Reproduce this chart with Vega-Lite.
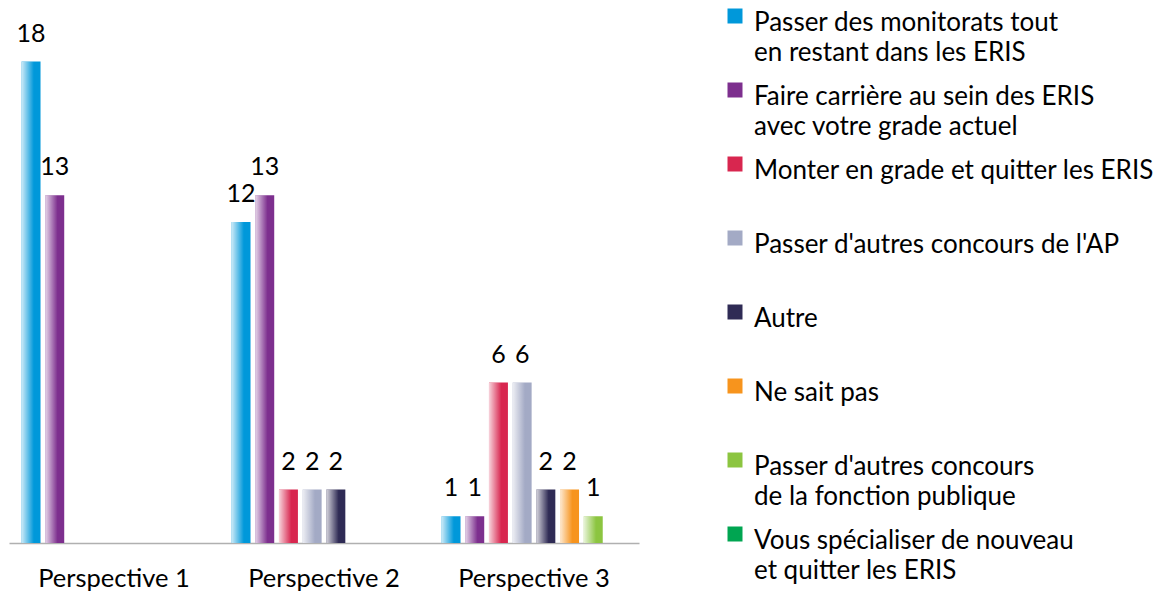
{
  "$schema": "https://vega.github.io/schema/vega-lite/v6.json",
  "autosize": {"type": "none"},
  "width": 630,
  "height": 535,
  "padding": {"left": 9, "top": 8, "right": 521, "bottom": 49},
  "background": "white",
  "config": {"view": {"stroke": null}, "font": "Lato"},
  "data": {
    "values": [
      {"perspective": "Perspective 1", "serie": "Passer des monitorats tout|en restant dans les ERIS", "value": 18},
      {"perspective": "Perspective 1", "serie": "Faire carrière au sein des ERIS|avec votre grade actuel", "value": 13},
      {"perspective": "Perspective 2", "serie": "Passer des monitorats tout|en restant dans les ERIS", "value": 12},
      {"perspective": "Perspective 2", "serie": "Faire carrière au sein des ERIS|avec votre grade actuel", "value": 13},
      {"perspective": "Perspective 2", "serie": "Monter en grade et quitter les ERIS", "value": 2},
      {"perspective": "Perspective 2", "serie": "Passer d'autres concours de l'AP", "value": 2},
      {"perspective": "Perspective 2", "serie": "Autre", "value": 2},
      {"perspective": "Perspective 3", "serie": "Passer des monitorats tout|en restant dans les ERIS", "value": 1},
      {"perspective": "Perspective 3", "serie": "Faire carrière au sein des ERIS|avec votre grade actuel", "value": 1},
      {"perspective": "Perspective 3", "serie": "Monter en grade et quitter les ERIS", "value": 6},
      {"perspective": "Perspective 3", "serie": "Passer d'autres concours de l'AP", "value": 6},
      {"perspective": "Perspective 3", "serie": "Autre", "value": 2},
      {"perspective": "Perspective 3", "serie": "Ne sait pas", "value": 2},
      {"perspective": "Perspective 3", "serie": "Passer d'autres concours|de la fonction publique", "value": 1}
    ]
  },
  "encoding": {
    "x": {
      "field": "perspective", "type": "nominal",
      "scale": {"paddingInner": 0, "paddingOuter": 0},
      "axis": {
        "title": null, "labelAngle": 0, "ticks": false,
        "domainColor": "#b0b0b0", "domainWidth": 1.5,
        "labelFont": "Lato", "labelFontSize": 25.5, "labelColor": "#000000",
        "labelPadding": 23
      }
    },
    "xOffset": {
      "field": "serie", "type": "nominal",
      "scale": {
        "domain": [
          "Passer des monitorats tout|en restant dans les ERIS",
          "Faire carrière au sein des ERIS|avec votre grade actuel",
          "Monter en grade et quitter les ERIS",
          "Passer d'autres concours de l'AP",
          "Autre",
          "Ne sait pas",
          "Passer d'autres concours|de la fonction publique",
          "Vous spécialiser de nouveau|et quitter les ERIS"
        ],
        "paddingInner": 0.2, "paddingOuter": 0.53
      }
    },
    "y": {
      "field": "value", "type": "quantitative",
      "scale": {"domain": [0, 20], "nice": false},
      "axis": null
    }
  },
  "layer": [
    {
      "mark": {"type": "bar"},
      "encoding": {
        "color": {
          "field": "serie", "type": "nominal",
          "scale": {
            "domain": [
              "Passer des monitorats tout|en restant dans les ERIS",
              "Faire carrière au sein des ERIS|avec votre grade actuel",
              "Monter en grade et quitter les ERIS",
              "Passer d'autres concours de l'AP",
              "Autre",
              "Ne sait pas",
              "Passer d'autres concours|de la fonction publique",
              "Vous spécialiser de nouveau|et quitter les ERIS"
            ],
            "range": ["#0098DA", "#7D2F8E", "#D8264F", "#A3AAC5", "#2F2B55", "#F7941D", "#8CC540", "#00A551"]
          },
          "legend": {
            "title": null,
            "orient": "none",
            "legendX": 713,
            "legendY": -11,
            "symbolType": "square",
            "symbolSize": 225,
            "symbolStrokeWidth": 0,
            "labelFont": "Lato",
            "labelFontSize": 26,
            "labelColor": "#000000",
            "labelBaseline": "top",
            "labelLimit": 600,
            "labelOffset": 6,
            "rowPadding": 5,
            "labelExpr": "split(indexof(datum.label, '|') < 0 ? datum.label + '| ' : datum.label, '|')",
            "encode": {
              "labels": {"update": {"lineHeight": {"value": 30}}},
              "symbols": {"update": {"y": {"value": 19}}}
            }
          }
        }
      }
    },
    {
      "mark": {
        "type": "bar",
        "fill": {
          "gradient": "linear", "x1": 0, "x2": 1, "y1": 0, "y2": 0,
          "stops": [
            {"offset": 0, "color": "rgba(255,255,255,0.8)"},
            {"offset": 0.65, "color": "rgba(255,255,255,0)"}
          ]
        }
      }
    },
    {
      "mark": {"type": "text", "baseline": "alphabetic", "dy": -20, "font": "Lato", "fontSize": 25, "color": "#000000"},
      "encoding": {"text": {"field": "value", "type": "quantitative"}}
    }
  ]
}
